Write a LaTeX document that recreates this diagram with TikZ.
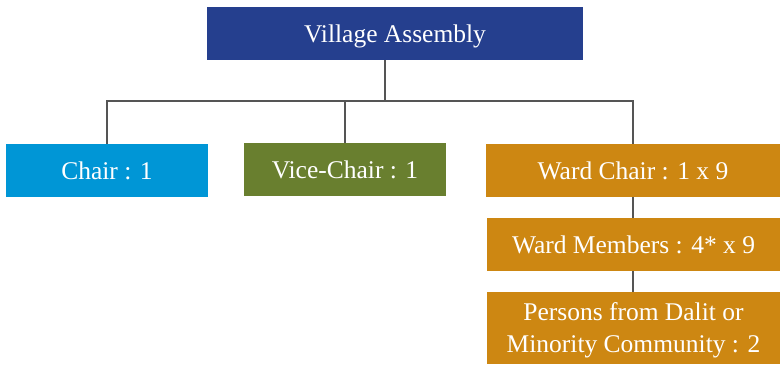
\documentclass[tikz,border=0pt]{standalone}
\usepackage{fontspec}
\setmainfont{Liberation Serif}
\definecolor{vablue}{HTML}{253F8E}
\definecolor{chaircyan}{HTML}{0096D6}
\definecolor{viceolive}{HTML}{697F2F}
\definecolor{wardgold}{HTML}{CD8712}
\definecolor{linegray}{HTML}{555555}
\begin{document}
\begin{tikzpicture}[x=1pt,y=-1pt,
  box/.style={rectangle, inner sep=0pt, text=white, align=center,
    font=\fontsize{25.5}{32}\selectfont, minimum height=53pt,
    text height=17pt, text depth=-3pt},
  conn/.style={draw=linegray, line width=1.8pt}]
\useasboundingbox (0,0) rectangle (780,365);
\node[box, fill=vablue, minimum width=376pt] (va) at (395,33.5) {Village Assembly};
\node[box, fill=chaircyan, minimum width=202pt] (chair) at (107,170.5) {Chair : 1};
\node[box, fill=viceolive, minimum width=202pt] (vice) at (345,169.5) {Vice-Chair : 1};
\node[box, fill=wardgold, minimum width=294pt] (ward) at (633,170.5) {Ward Chair : 1 x 9};
\node[box, fill=wardgold, minimum width=293pt] (wm) at (633.5,244.5) {Ward Members : 4* x 9};
\node[box, fill=wardgold, minimum width=293pt, minimum height=72pt,
  text height=49pt, text depth=-6pt] (pers) at (633.5,328) {Persons from Dalit or\\Minority Community : 2};
\coordinate (bus) at (385,101);
\draw[conn] (bus |- va.south) -- (bus);
\draw[conn] (chair.north) |- (ward.north |- bus) -- (ward.north);
\draw[conn] (vice.north) -- (vice.north |- bus);
\draw[conn] (ward.south) -- (ward.south |- wm.north);
\draw[conn] (ward.south |- wm.south) -- (ward.south |- pers.north);
\end{tikzpicture}
\end{document}
